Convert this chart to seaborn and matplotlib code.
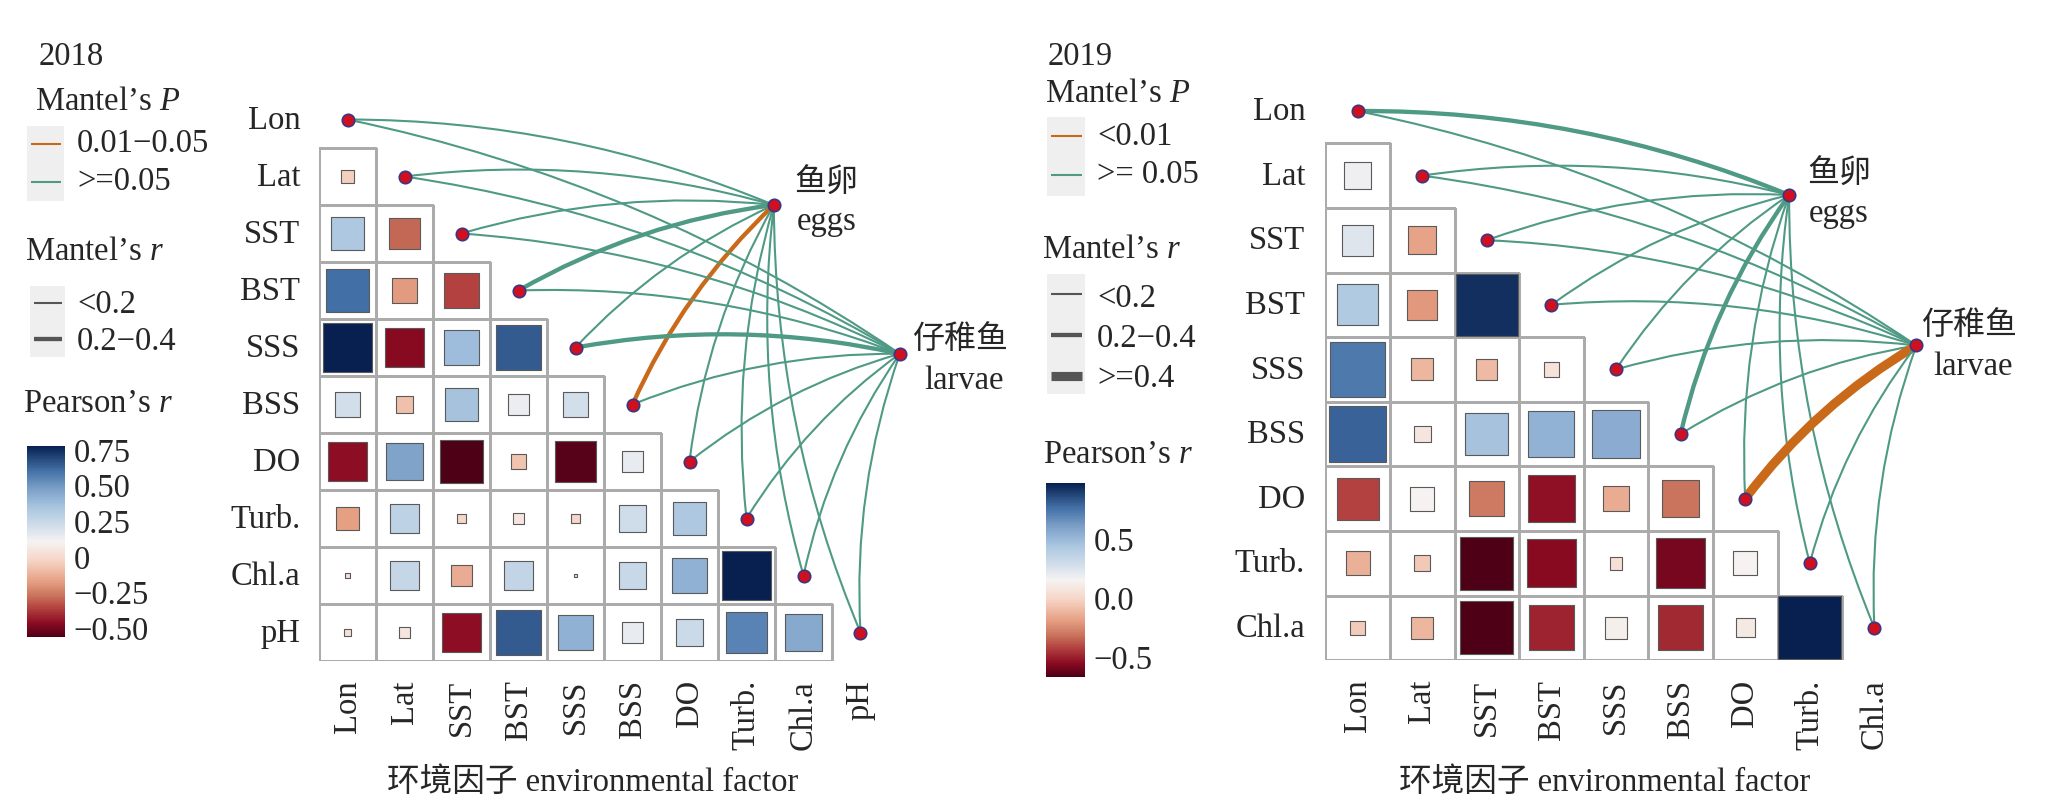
import numpy as np
import pandas as pd
import matplotlib
matplotlib.use("Agg")
import matplotlib.pyplot as plt
import seaborn as sns
from matplotlib.patches import Rectangle, FancyArrowPatch
from matplotlib.lines import Line2D
from matplotlib.colors import Normalize, ListedColormap, LinearSegmentedColormap
from matplotlib.cm import ScalarMappable

# ---------------- data ----------------
vars_2018 = ["Lon", "Lat", "SST", "BST", "SSS", "BSS", "DO", "Turb.", "Chl.a", "pH"]
# lower triangle of Pearson's r (row i holds columns 0..i-1)
pearson_2018 = [
    [],
    [-0.05],
    [0.33, -0.30],
    [0.60, -0.19, -0.37],
    [0.77, -0.48, 0.37, 0.64],
    [0.20, -0.09, 0.35, 0.13, 0.20],
    [-0.47, 0.46, -0.57, -0.08, -0.55, 0.14],
    [-0.18, 0.27, -0.03, 0.04, -0.03, 0.22, 0.33],
    [0.008, 0.25, -0.15, 0.26, 0.003, 0.24, 0.41, 0.77],
    [0.02, 0.04, -0.47, 0.64, 0.41, 0.14, 0.23, 0.55, 0.44],
]
species_2018 = ["eggs", "larvae"]
mantel_p_2018 = {
    "eggs":   [">=0.05", ">=0.05", ">=0.05", ">=0.05", ">=0.05", "0.01-0.05", ">=0.05", ">=0.05", ">=0.05", ">=0.05"],
    "larvae": [">=0.05", ">=0.05", ">=0.05", ">=0.05", ">=0.05", ">=0.05", ">=0.05", ">=0.05", ">=0.05", ">=0.05"],
}
mantel_r_2018 = {
    "eggs":   ["<0.2", "<0.2", "<0.2", "0.2-0.4", "<0.2", "0.2-0.4", "<0.2", "<0.2", "<0.2", "<0.2"],
    "larvae": ["<0.2", "<0.2", "<0.2", "<0.2", "0.2-0.4", "<0.2", "<0.2", "<0.2", "<0.2", "<0.2"],
}

vars_2019 = ["Lon", "Lat", "SST", "BST", "SSS", "BSS", "DO", "Turb.", "Chl.a"]
pearson_2019 = [
    [],
    [0.17],
    [0.23, -0.19],
    [0.41, -0.22, 0.93],
    [0.73, -0.12, -0.11, 0.05],
    [0.79, 0.07, 0.45, 0.52, 0.55],
    [-0.43, 0.14, -0.30, -0.55, -0.16, -0.32],
    [-0.14, -0.06, -0.68, -0.57, 0.04, -0.60, 0.14],
    [-0.05, -0.12, -0.68, -0.50, 0.12, -0.49, 0.09, 0.97],
]
species_2019 = ["eggs", "larvae"]
mantel_p_2019 = {
    "eggs":   [">=0.05", ">=0.05", ">=0.05", ">=0.05", ">=0.05", ">=0.05", ">=0.05", ">=0.05", ">=0.05"],
    "larvae": [">=0.05", ">=0.05", ">=0.05", ">=0.05", ">=0.05", ">=0.05", "<0.01", ">=0.05", ">=0.05"],
}
mantel_r_2019 = {
    "eggs":   ["0.2-0.4", "<0.2", "<0.2", "<0.2", "<0.2", "0.2-0.4", "<0.2", "<0.2", "<0.2"],
    "larvae": ["<0.2", "<0.2", "<0.2", "<0.2", "<0.2", "<0.2", ">=0.4", "<0.2", "<0.2"],
}

# ---------------- style ----------------
W, H = 2046, 812
sns.set_theme(style="white")
FONT = ["Liberation Serif", "Noto Sans CJK SC", "DejaVu Sans"]
plt.rcParams["font.family"] = FONT
plt.rcParams["mathtext.fontset"] = "custom"
plt.rcParams["mathtext.rm"] = "Liberation Serif"
plt.rcParams["mathtext.it"] = "Liberation Serif:italic"

FS = 23.5
GREEN = "#4f9a84"
ORANGE = "#c96a1b"
P_COLOR = {"<0.01": ORANGE, "0.01-0.05": ORANGE, ">=0.05": GREEN}
R_WIDTH = {"<0.2": 1.5, "0.2-0.4": 3.1, ">=0.4": 6.6}
CMAP = LinearSegmentedColormap.from_list("rdbu_muted", [
    (0.00, "#4d0016"), (0.07, "#8b0a22"), (0.15, "#b2423f"), (0.21, "#c8705a"),
    (0.29, "#e59f82"), (0.40, "#f6d5c6"), (0.50, "#f5f3f2"), (0.57, "#d6e0ec"),
    (0.67, "#adc8e0"), (0.72, "#96b6d8"), (0.78, "#7b9ec6"), (0.87, "#4472a8"),
    (1.00, "#072050")])

fig = plt.figure(figsize=(W / 100, H / 100), dpi=100)
fig.patch.set_facecolor("white")


def fx(px):
    return px / W


def fy(py):
    return 1 - py / H


def draw_panel(vars_, pearson, species, spec_xy, mantel_p, mantel_r,
               left, top, cell, smax, ypad, xpad, xlabel_xy):
    n = len(vars_)
    mat = np.full((n, n), np.nan)
    recs = []
    for i, row in enumerate(pearson):
        for j, v in enumerate(row):
            mat[i, j] = v
            recs.append({"x": j + 0.5, "y": i + 0.5, "r": v, "absr": abs(v)})
    df = pd.DataFrame(recs)
    mask = np.isnan(mat)
    ax = fig.add_axes([fx(left), fy(top + n * cell), n * cell / W, n * cell / H])
    sns.heatmap(np.zeros((n, n)), mask=mask, cmap=ListedColormap(["white"]),
                vmin=0, vmax=1, cbar=False, linewidths=0.75, linecolor="#aaaaaa",
                xticklabels=vars_, yticklabels=vars_, ax=ax)
    mesh = ax.collections[0]
    mesh.set_edgecolor([(1, 1, 1, 0) if mask[i, j] else (0.67, 0.67, 0.67, 1)
                        for i in range(n) for j in range(n)])
    vmin, vmax = df["r"].min(), df["r"].max()
    sns.scatterplot(data=df, x="x", y="y", hue="r", palette=CMAP,
                    hue_norm=(vmin, vmax), size="absr", sizes=(0, smax),
                    size_norm=(0, 1), marker="s", edgecolor="#5a5a5a",
                    linewidth=0.8, legend=False, ax=ax, zorder=3)
    # Mantel links
    for k, sp in enumerate(species):
        sx, sy = spec_xy[k]
        for j in range(n):
            p = mantel_p[sp][j]
            r = mantel_r[sp][j]
            ax.add_patch(FancyArrowPatch(
                (j + 0.5, j + 0.5), (sx, sy), arrowstyle="-",
                connectionstyle="arc3,rad=-0.1", color=P_COLOR[p],
                lw=R_WIDTH[r], shrinkA=0, shrinkB=0, clip_on=False,
                zorder=2))
    nodes = pd.DataFrame({
        "x": [j + 0.5 for j in range(n)] + [s[0] for s in spec_xy],
        "y": [j + 0.5 for j in range(n)] + [s[1] for s in spec_xy],
    })
    sns.scatterplot(data=nodes, x="x", y="y", s=80, color="#d0101f",
                    edgecolor="#3b3585", linewidth=1.2, legend=False, ax=ax,
                    zorder=5, clip_on=False)
    ax.set_xlim(0, n)
    ax.set_ylim(n, 0)
    ax.tick_params(length=0, labelsize=FS)
    ax.tick_params(axis="y", pad=ypad, labelrotation=0)
    ax.tick_params(axis="x", pad=xpad, labelrotation=90)
    ax.set_ylabel("")
    ax.set_xlabel("环境因子 environmental factor", fontsize=FS)
    ax.xaxis.set_label_coords(*xlabel_xy)
    for s in ax.spines.values():
        s.set_visible(False)
    ax.patch.set_alpha(0)
    return vmin, vmax


def legend_block(year, year_xy, pt_xy, pbox, p_items, rt_xy, rbox, r_items,
                 prt_xy, crect, vmin, vmax, ticks, tlabels, text_x):
    fig.text(fx(year_xy[0]), fy(year_xy[1]), year, fontsize=FS, va="baseline")
    fig.text(fx(pt_xy[0]), fy(pt_xy[1]), "Mantel\u2019s $\\mathit{P}$",
             fontsize=FS, va="baseline")
    for box, items in ((pbox, p_items), (rbox, r_items)):
        x0, y0, x1, y1 = box
        fig.add_artist(Rectangle((fx(x0), fy(y1)), (x1 - x0) / W, (y1 - y0) / H,
                                 transform=fig.transFigure, facecolor="#efefef",
                                 edgecolor="none"))
        for label, ly, tb, color, lw in items:
            fig.add_artist(Line2D([fx(x0 + 4), fx(x1 - 3)], [fy(ly), fy(ly)],
                                  transform=fig.transFigure, color=color, lw=lw,
                                  solid_capstyle="butt"))
            fig.text(fx(text_x), fy(tb), label, fontsize=FS, va="baseline")
    fig.text(fx(rt_xy[0]), fy(rt_xy[1]), "Mantel\u2019s $\\mathit{r}$",
             fontsize=FS, va="baseline")
    fig.text(fx(prt_xy[0]), fy(prt_xy[1]), "Pearson\u2019s $\\mathit{r}$",
             fontsize=FS, va="baseline")
    cx0, cy0, cx1, cy1 = crect
    cax = fig.add_axes([fx(cx0), fy(cy1), (cx1 - cx0) / W, (cy1 - cy0) / H])
    sm = ScalarMappable(norm=Normalize(vmin, vmax), cmap=CMAP)
    cb = fig.colorbar(sm, cax=cax)
    cb.outline.set_visible(False)
    cb.set_ticks(ticks, labels=tlabels)
    cax.minorticks_off()
    cax.tick_params(axis="y", which="major", left=True, right=True,
                    labelleft=False, labelright=True, direction="in",
                    length=5, width=1.3, color="white", labelsize=FS, pad=6)


# ---------------- 2018 panel ----------------
v18 = draw_panel(vars_2018, pearson_2018, species_2018,
                 [(7.98, 2.0), (10.19, 4.61)], mantel_p_2018, mantel_r_2018,
                 left=319, top=92, cell=57, smax=1626, ypad=13.5, xpad=13,
                 xlabel_xy=(0.48, -0.184))
fig.text(fx(826), fy(184), "鱼卵", fontsize=23, ha="center", va="center")
fig.text(fx(827), fy(230), "eggs", fontsize=FS, ha="center", va="baseline")
fig.text(fx(961), fy(340), "仔稚鱼", fontsize=23, ha="center", va="center")
fig.text(fx(964), fy(389), "larvae", fontsize=FS, ha="center", va="baseline")

legend_block("2018", (39, 65), (35, 110), (27, 127, 64, 202),
             [("0.01\u22120.05", 145, 152, ORANGE, 1.5),
              (">=0.05", 183, 190, GREEN, 1.5)],
             (25, 260), (30, 287, 65, 358),
             [("<0.2", 304, 313, "#555555", 1.5),
              ("0.2\u22120.4", 340, 350, "#555555", 3.1)],
             (23, 412), (27, 447, 65, 638), v18[0], v18[1],
             [-0.5, -0.25, 0, 0.25, 0.5, 0.75],
             ["\u22120.50", "\u22120.25", "0", "0.25", "0.50", "0.75"], 77)

# ---------------- 2019 panel ----------------
v19 = draw_panel(vars_2019, pearson_2019, species_2019,
                 [(7.18, 1.80), (9.15, 4.13)], mantel_p_2019, mantel_r_2019,
                 left=1325.3, top=79.7, cell=64.6, smax=2123, ypad=14.5, xpad=13.5,
                 xlabel_xy=(0.481, -0.182))
fig.text(fx(1839), fy(175), "鱼卵", fontsize=23, ha="center", va="center")
fig.text(fx(1839), fy(222), "eggs", fontsize=FS, ha="center", va="baseline")
fig.text(fx(1970), fy(326), "仔稚鱼", fontsize=23, ha="center", va="center")
fig.text(fx(1973), fy(375), "larvae", fontsize=FS, ha="center", va="baseline")

legend_block("2019", (1048, 65), (1045, 102), (1047, 118, 1085, 197),
             [("<0.01", 137, 145, ORANGE, 1.5),
              (">= 0.05", 176, 183, GREEN, 1.5)],
             (1042, 258), (1047, 275, 1085, 395),
             [("<0.2", 295, 307, "#555555", 1.5),
              ("0.2\u22120.4", 336, 347, "#555555", 3.1),
              (">=0.4", 377, 387, "#555555", 6.6)],
             (1043, 463), (1046, 484, 1085, 678), v19[0], v19[1],
             [-0.5, 0.0, 0.5], ["\u22120.5", "0.0", "0.5"], 1097)

fig.savefig("out.png", dpi=100, facecolor="white")
